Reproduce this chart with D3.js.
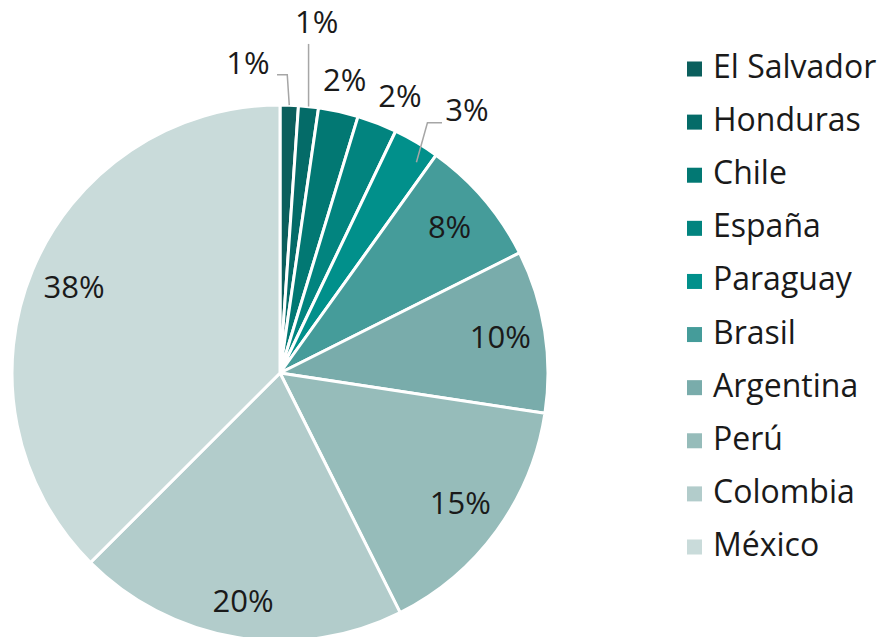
<!DOCTYPE html>
<html>
<head>
<meta charset="utf-8">
<script src="https://cdn.jsdelivr.net/npm/d3@7"></script>
<style>
  body { margin: 0; background: #fff; }
  svg { display: block; font-family: "Open Sans", sans-serif; }
</style>
</head>
<body>
<div id="chart"></div>
<script>
const countries = ["El Salvador", "Honduras", "Chile", "España", "Paraguay",
  "Brasil", "Argentina", "Perú", "Colombia", "México"];
const shares = [1.1, 1.2, 2.4, 2.4, 2.8, 7.7, 9.8, 15.2, 19.9, 37.5];
const labels = ["1%", "1%", "2%", "2%", "3%", "8%", "10%", "15%", "20%", "38%"];
const colors = ["#0b5f5d", "#046b68", "#027873", "#02847f", "#01908b",
  "#459c9a", "#79acab", "#96bcba", "#b2cccb", "#c9dbda"];

const width = 881;
const height = 637;
const cx = 280, cy = 373, radius = 268;

const svg = d3.select("#chart")
  .append("svg")
  .attr("width", width)
  .attr("height", height)
  .attr("viewBox", [0, 0, width, height]);

const data = countries.map((c, i) => ({ name: c, value: shares[i], label: labels[i], color: colors[i] }));

const pie = d3.pie().sort(null).value(d => d.value);
const arcs = pie(data);
const arc = d3.arc().innerRadius(0).outerRadius(radius);

const g = svg.append("g").attr("transform", `translate(${cx},${cy})`);

g.selectAll("path")
  .data(arcs)
  .join("path")
  .attr("d", arc)
  .attr("fill", d => d.data.color)
  .attr("stroke", "#fff")
  .attr("stroke-width", 3)
  .attr("stroke-linejoin", "round");

// label placement: polar (radius, angle in degrees from the top) for the small slices,
// the big ones sit at their centroid further out
const outside = {
  "El Salvador": { r: 311, a: -5.9, leader: "elbow-left" },
  "Honduras": { r: 352, a: 6.0, leader: "vertical" },
  "Chile": { r: 299, a: 12.5 },
  "España": { r: 301, a: 23.5 },
  "Paraguay": { r: 322, a: 35.5, leader: "elbow-right" }
};
const polar = (r, deg) => {
  const t = deg * Math.PI / 180;
  return [r * Math.sin(t), -r * Math.cos(t)];
};
const innerArc = d3.arc().innerRadius(223).outerRadius(223);

arcs.forEach(d => {
  const o = outside[d.data.name];
  let pos;
  if (o) pos = polar(o.r, o.a);
  else if (d.data.name === "Colombia") pos = d3.arc().innerRadius(232).outerRadius(232).centroid(d);
  else pos = innerArc.centroid(d);

  g.append("text")
    .attr("x", pos[0])
    .attr("y", pos[1] + 10)
    .attr("text-anchor", "middle")
    .attr("font-size", 31)
    .attr("fill", "#1a1a1a")
    .text(d.data.label);

  if (o && o.leader) {
    const mid = (d.startAngle + d.endAngle) / 2;
    const edge = [radius * Math.sin(mid), -radius * Math.cos(mid)];
    let pts;
    if (o.leader === "vertical") {
      pts = [[edge[0], edge[1]], [edge[0], pos[1] + 21]];
    } else if (o.leader === "elbow-left") {
      const y = pos[1] + 11;
      pts = [[edge[0], edge[1]], [edge[0] - 2, y], [pos[0] + 29, y]];
    } else {
      const y = pos[1] + 12;
      pts = [[edge[0], edge[1] + 20], [edge[0] + 11, y], [pos[0] - 25, y]];
    }
    g.append("path")
      .attr("d", d3.line()(pts))
      .attr("fill", "none")
      .attr("stroke", "#a6a6a6")
      .attr("stroke-width", 1.5);
  }
});

// legend
const legendY = d3.scalePoint().domain(countries).range([69, 547]);
const legend = svg.append("g").selectAll("g")
  .data(data)
  .join("g")
  .attr("transform", d => `translate(687,${legendY(d.name)})`);

legend.append("rect")
  .attr("x", 0)
  .attr("y", -7.5)
  .attr("width", 15)
  .attr("height", 15)
  .attr("fill", d => d.color);

legend.append("text")
  .attr("x", 26)
  .attr("y", 9)
  .attr("font-size", 32)
  .attr("fill", "#1a1a1a")
  .text(d => d.name);
</script>
</body>
</html>
